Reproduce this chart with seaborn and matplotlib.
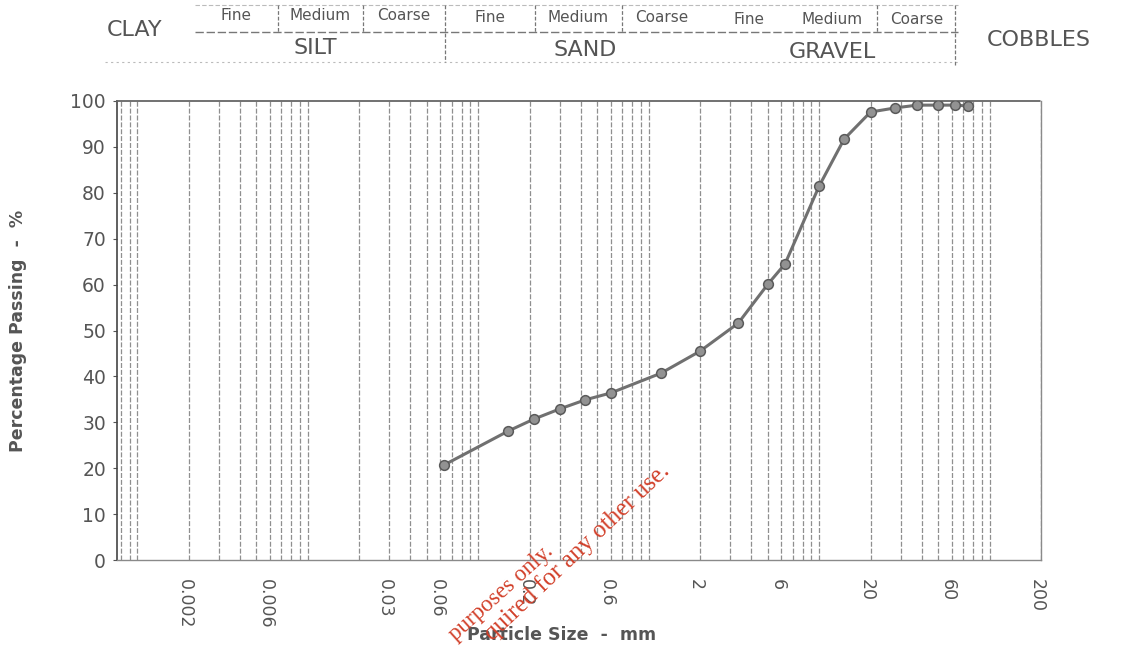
import numpy as np
import pandas as pd
import matplotlib
matplotlib.use("Agg")
import matplotlib.pyplot as plt
import matplotlib.transforms as mtransforms
from matplotlib.ticker import LogLocator, FixedLocator, FixedFormatter, NullFormatter
import seaborn as sns

# ---- data ----
particle_size_mm = [0.063, 0.15, 0.212, 0.3, 0.425, 0.6, 1.18, 2, 3.35, 5, 6.3,
                    10, 14, 20, 28, 37.5, 50, 63, 75]
percent_passing = [20.7, 28.1, 30.7, 32.9, 34.9, 36.4, 40.7, 45.5, 51.6, 60.1, 64.5,
                   81.5, 91.7, 97.6, 98.5, 99.1, 99.1, 99.1, 98.9]
x_tick_values = [0.002, 0.006, 0.03, 0.06, 0.2, 0.6, 2, 6, 20, 60, 200]
x_tick_labels = ["0.002", "0.006", "0.03", "0.06", "0.2", "0.6", "2", "6", "20", "60", "200"]
y_tick_values = [0, 10, 20, 30, 40, 50, 60, 70, 80, 90, 100]

sub_labels = ["Fine", "Medium", "Coarse"]
main_labels = ["SILT", "SAND", "GRAVEL"]

df = pd.DataFrame({"size": particle_size_mm, "passing": percent_passing})

sns.set_theme(style="white")
plt.rcParams["font.family"] = ["DejaVu Sans"]

W, H = 1131, 650
fig = plt.figure(figsize=(W / 100, H / 100), dpi=100)
L, R, T, B = 117, 1041, 101, 560
ax = fig.add_axes([L / W, 1 - B / H, (R - L) / W, (B - T) / H])

ax.set_xscale("log")
ax.set_xlim(0.00076, 200)
ax.set_ylim(0, 100)

sns.lineplot(data=df, x="size", y="passing", ax=ax, color="#707070", linewidth=2.2,
             marker="o", markersize=7, markerfacecolor="#929292",
             markeredgecolor="#5a5a5a", markeredgewidth=1.1, zorder=5)

# grid (log minor/major)
ax.xaxis.set_major_locator(FixedLocator(x_tick_values))
ax.xaxis.set_major_formatter(FixedFormatter(x_tick_labels))
ax.xaxis.set_minor_locator(LogLocator(base=10, subs=np.arange(1, 10), numticks=50))
ax.xaxis.set_minor_formatter(NullFormatter())
ax.grid(False)
ax.grid(True, which="both", axis="x", color="#8f8f8f", linestyle=(0, (4, 1.5)),
        linewidth=0.9)

ax.set_yticks(y_tick_values)
ax.tick_params(axis="x", which="both", length=0, pad=14, labelsize=12.5,
               labelcolor="#555555", labelrotation=270)
ax.tick_params(axis="y", which="major", left=True, length=3, width=0.8, color="#555555",
               pad=5, labelsize=13.5, labelcolor="#555555")

offset = mtransforms.ScaledTranslation(-0.04, 0, fig.dpi_scale_trans)
for lab in ax.get_xticklabels():
    lab.set_transform(lab.get_transform() + offset)

ax.set_xlabel("Particle Size  -  mm", fontsize=12.5, fontweight="bold", color="#555555")
ax.xaxis.set_label_coords((562 - L) / (R - L), -(626 - B) / (B - T))
ax.xaxis.label.set_verticalalignment("top")
ax.set_ylabel("Percentage Passing  -  %", fontsize=12.5, fontweight="bold", color="#555555")
ax.yaxis.set_label_coords((27 - L) / (R - L), 0.5)

for side, sp in ax.spines.items():
    sp.set_visible(True)
    sp.set_color("#8a8a8a")
    sp.set_linewidth(1.0)
    sp.set_linestyle((0, (3, 1)))
ax.spines["left"].set_color("#444444")
ax.spines["left"].set_linestyle("-")
ax.spines["left"].set_linewidth(1.2)
ax.spines["top"].set_color("#666666")
ax.spines["top"].set_linewidth(1.3)

# ---- header table (pixel coords overlay) ----
ov = fig.add_axes([0, 0, 1, 1], zorder=10)
ov.set_xlim(0, W)
ov.set_ylim(H, 0)
ov.axis("off")
ov.patch.set_alpha(0)

lc = "#777777"
ov.plot([195, 958], [5, 5], color="#bbbbbb", lw=0.8, ls=(0, (4, 2)))
ov.plot([195, 958], [32, 32], color=lc, lw=1.0, ls=(0, (6, 2)))
ov.plot([105, 958], [62, 62], color="#bbbbbb", lw=0.8, ls=(0, (2, 3)))
for xv in [278, 363, 535, 622, 877]:
    ov.plot([xv, xv], [5, 32], color=lc, lw=0.9, ls=(0, (3, 1.5)))
ov.plot([445, 445], [5, 62], color=lc, lw=0.9, ls=(0, (3, 1.5)))
ov.plot([955, 955], [5, 66], color=lc, lw=0.9, ls=(0, (3, 1.5)))

tc = "#555555"
sub_pos = [(236, 15), (320, 15), (404, 15),
           (490, 17), (578, 17), (662, 18),
           (749, 19), (832, 19), (917, 20)]
for i, (px, py) in enumerate(sub_pos):
    ov.text(px, py, sub_labels[i % 3], ha="center", va="center", fontsize=11, color=tc)
main_pos = [(315, 48), (585, 50), (832, 52)]
for lab, (px, py) in zip(main_labels, main_pos):
    ov.text(px, py, lab, ha="center", va="center", fontsize=16, color=tc)
ov.text(135, 30, "CLAY", ha="center", va="center", fontsize=16, color=tc)
ov.text(1039, 40, "COBBLES", ha="center", va="center", fontsize=16, color=tc)

# ---- watermark ----
wm = "#d2402a"
ov.text(554, 553, "purposes only.", rotation=42, rotation_mode="anchor",
        ha="right", va="baseline", fontsize=16.5, color=wm, family="Liberation Serif")
ov.text(671, 472, "quired for any other use.", rotation=43.5,
        rotation_mode="anchor", ha="right", va="baseline", fontsize=18, color=wm,
        family="Liberation Serif")

fig.savefig("out.png", dpi=100)
